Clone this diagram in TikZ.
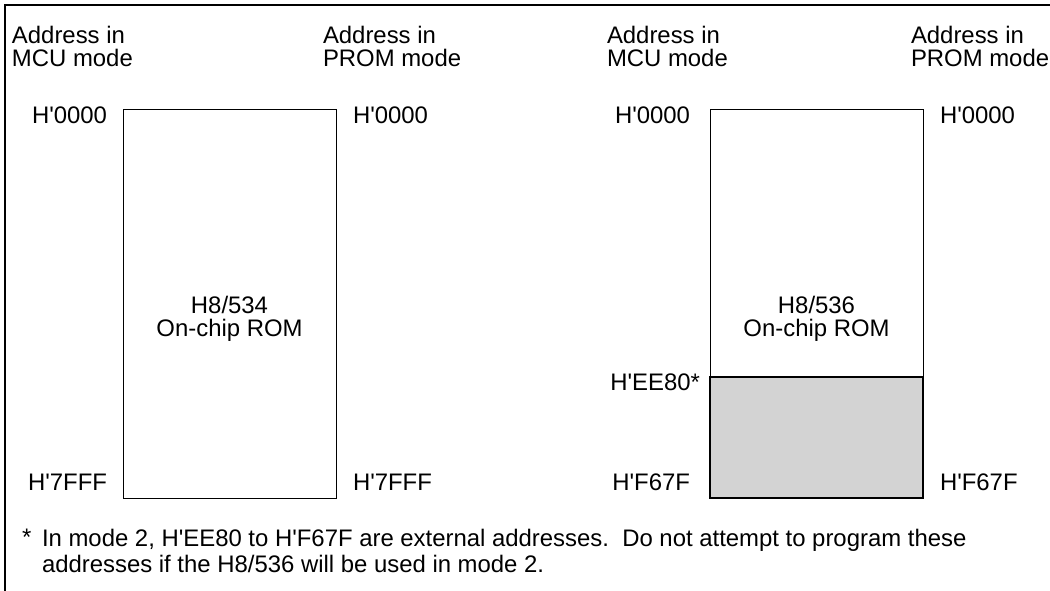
\documentclass[tikz,border=0pt]{standalone}
\usepackage{fontspec}
\setmainfont{Liberation Sans}
\usetikzlibrary{positioning,calc}
\definecolor{cExt}{HTML}{D3D3D3}
\newcommand{\hx}{H\textquotesingle}
\tikzset{
  txt/.style   ={font=\fontsize{23.9}{23}\selectfont,inner sep=0pt,outer sep=0pt},
  hdr/.style   ={txt,align=left,anchor=north west},
  addr/.style  ={txt},
  rom/.style   ={draw=black,line width=1pt,minimum width=213pt,minimum height=388pt,
                 inner sep=0pt,outer sep=0pt},
  extarea/.style={draw=black,line width=1.7pt,fill=cExt,minimum width=213pt,
                 minimum height=121pt,inner sep=0pt,outer sep=0pt},
  frame/.style ={draw=black,line width=1.5pt},
  note/.style  ={font=\fontsize{23.9}{26}\selectfont,inner sep=0pt,outer sep=0pt,
                 align=left,anchor=north west},
}

\begin{document}
\begin{tikzpicture}[x=1pt,y=1pt]
\useasboundingbox (0,0) rectangle (1050,-591);
\draw[frame] (1050,-5) -| (5,-591);

% column headings
\foreach \x/\n/\m in {12/hmcuA/MCU, 323/hpromA/PROM, 607/hmcuB/MCU, 911/hpromB/PROM}{
  \node[hdr] (\n) at (\x,-26) {Address in\\\m\ mode};
}

% H8/534
\node[rom] (rom534) at (229.5,-304) {};
\node[txt,align=center] (lbl534) at ([yshift=-15pt]rom534.center) {H8/534\\On-chip ROM};
\node[addr,left=16pt of rom534.north west,yshift=-5pt]  (a534tl) {\hx0000};
\node[addr,right=17pt of rom534.north east,yshift=-5pt] (a534tr) {\hx0000};
\node[addr,left=16pt of rom534.south west,yshift=16pt]  (a534bl) {\hx7FFF};
\node[addr,right=17pt of rom534.south east,yshift=16pt] (a534br) {\hx7FFF};

% H8/536
\node[rom] (rom536) at (816.5,-304) {};
\node[extarea,anchor=south] (ext536) at (rom536.south) {};
\node[txt,align=center] (lbl536) at ([yshift=-15pt]rom536.center) {H8/536\\On-chip ROM};
\node[addr,left=20pt of rom536.north west,yshift=-5pt]  (a536tl) {\hx0000};
\node[addr,right=17pt of rom536.north east,yshift=-5pt] (a536tr) {\hx0000};
\node[addr,left=10pt of ext536.north west,yshift=-5pt]  (a536ml) {\hx EE80*};
\node[addr,left=20pt of rom536.south west,yshift=16pt]  (a536bl) {\hx F67F};
\node[addr,right=17pt of rom536.south east,yshift=16pt] (a536br) {\hx F67F};

% footnote
\node[note] (fnmark) at (22,-529) {*};
\node[note] (fntext) at (42,-529) {In mode 2, \hx EE80 to \hx F67F are external addresses.\ \ Do not attempt to program these\\addresses if the H8/536 will be used in mode 2.};
\end{tikzpicture}
\end{document}
